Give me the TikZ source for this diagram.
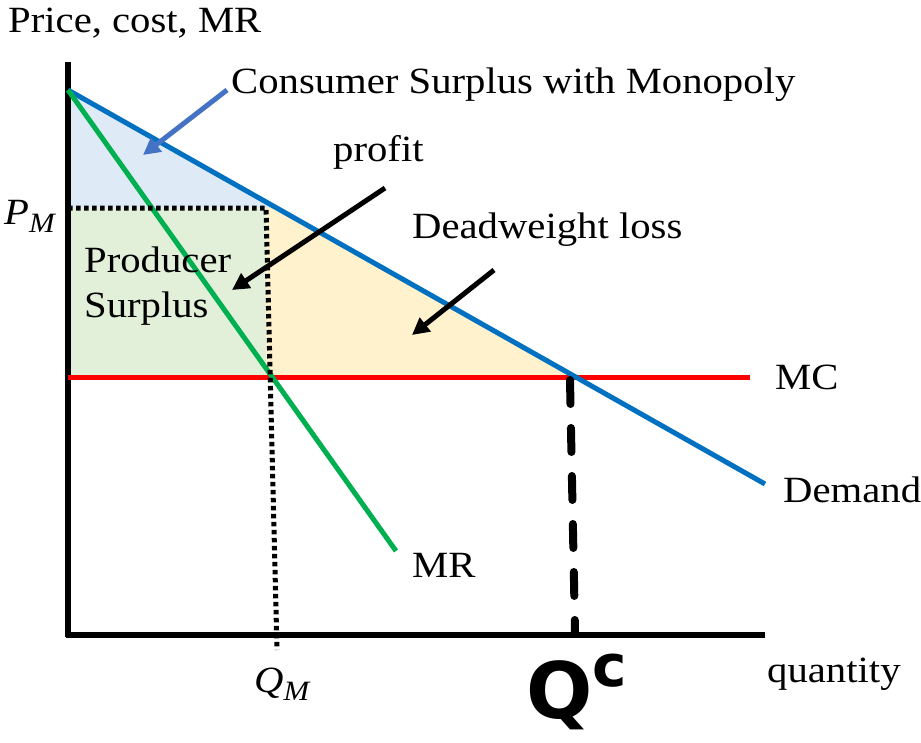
\documentclass[tikz,border=0pt]{standalone}
\usepackage{fontspec}
\setmainfont{Liberation Serif}[FakeStretch=1.1]
\newfontfamily\handfont{DejaVu Sans}
\usetikzlibrary{arrows.meta}
\definecolor{dblue}{HTML}{0070C0}
\definecolor{cblue}{HTML}{4472C4}
\definecolor{mrgreen}{HTML}{00B050}
\definecolor{csfill}{HTML}{DEEBF7}
\definecolor{psfill}{HTML}{E2F0D9}
\definecolor{dwlfill}{HTML}{FFF2CC}
\begin{document}
\begin{tikzpicture}[x=1pt,y=-1pt,
  lbl/.style={inner sep=0pt, anchor=base west, font=\fontsize{37}{42}\selectfont},
  axisline/.style={line width=5.5pt},
  curve/.style={line width=5pt},
  dotline/.style={line width=5pt, dash pattern=on 4.5pt off 3.5pt},
  qcline/.style={line width=8pt, line cap=round, dash pattern=on 24pt off 24pt},
  callout/.style={line width=5pt, -{Triangle[length=17pt,width=17pt]}}]
\useasboundingbox (0,0) rectangle (921,742);
% key points
\coordinate (A) at (68,90);
\coordinate (Dend) at (765,484);
\coordinate (Mend) at (396,551);
\coordinate (PMl) at (68,208);
\coordinate (PMc) at (266,208);
\coordinate (PMd) at (277,208);
\coordinate (E) at (574,377);
\coordinate (MCl) at (68,377);
\coordinate (MCr) at (750,377);
\coordinate (QMb) at (266,377);
\coordinate (QMend) at (277,650);
\coordinate (Ytop) at (68,62);
\coordinate (O) at (68,635);
\coordinate (Xend) at (765,635);
\coordinate (QCt) at (570,380);
\coordinate (QCb) at (575,632);
% fills
\fill[csfill] (A) -- (PMd) -- (PMl) -- cycle;
\fill[psfill] (PMl) rectangle (QMb);
\fill[dwlfill] (PMc) -- (PMd) -- (E) -- (QMb) -- cycle;
% axes
\draw[axisline] (Ytop) -- (68,637);
\draw[axisline] (66,635) -- (Xend);
% curves
\draw[curve, red] (MCl) -- (MCr);
\draw[curve, dblue] (A) -- (Dend);
\draw[curve, mrgreen] (A) -- (Mend);
% dotted guides
\draw[dotline] (PMl) -- (PMc) -- (QMend);
\draw[qcline] (QCt) -- (QCb);
% labels
\node[lbl] (ylab) at (8,32) {Price, cost, MR};
\node[lbl] (cs) at (231,93) {Consumer Surplus with Monopoly};
\node[lbl] (profit) at (333,161) {profit};
\node[lbl] (dwl) at (412,238) {Deadweight loss};
\node[lbl] (ps1) at (84,272) {Producer};
\node[lbl] (ps2) at (84,317) {Surplus};
\node[lbl] (pm) at (4,224) {\itshape P\raisebox{-0.22em}{\fontsize{28}{28}\selectfont\itshape M}};
\node[lbl] (mc) at (775,389) {MC};
\node[lbl] (dem) at (783,502) {Demand};
\node[lbl] (mr) at (412,577) {MR};
\node[lbl] (qm) at (254,692) {\itshape Q\raisebox{-0.22em}{\fontsize{28}{28}\selectfont\itshape M}};
\node[lbl] (qty) at (767,682) {quantity};
\node[inner sep=0pt, anchor=base west, font=\handfont\bfseries\fontsize{78}{78}\selectfont] (qc) at (526,718) {Q\raisebox{0.40em}{\fontsize{58}{58}\selectfont c}};
% callout arrows
\coordinate (csA) at (227,90);
\coordinate (csB) at (143,155);
\coordinate (prA) at (385,188);
\coordinate (prB) at (232,290);
\coordinate (dwA) at (494,270);
\coordinate (dwB) at (412,335);
\draw[callout, cblue] (csA) -- (csB);
\draw[callout] (prA) -- (prB);
\draw[callout] (dwA) -- (dwB);
\end{tikzpicture}
\end{document}
